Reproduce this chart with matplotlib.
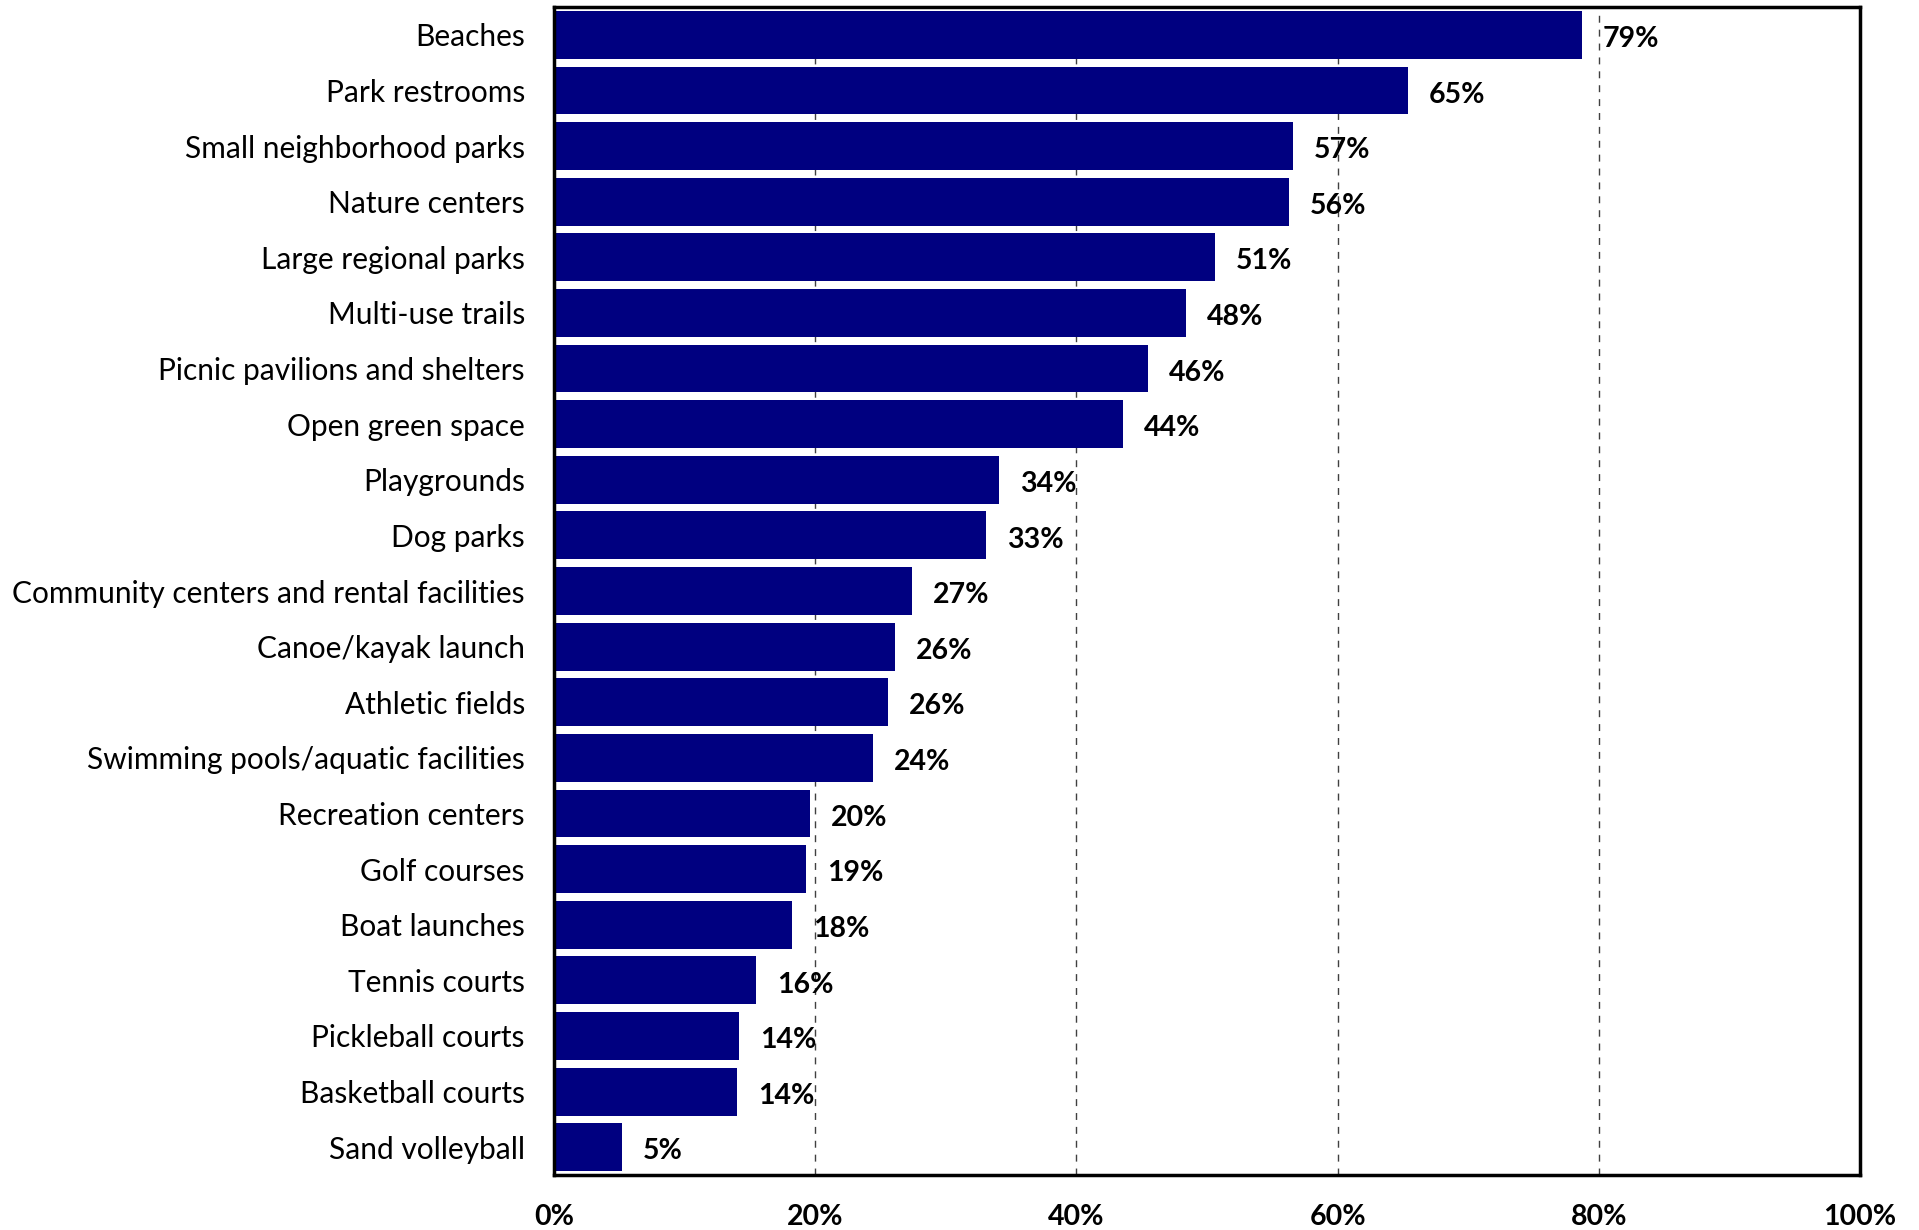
import matplotlib.pyplot as plt
import numpy as np

# Share of respondents by facility type
facilities = [
    "Beaches", "Park restrooms", "Small neighborhood parks", "Nature centers",
    "Large regional parks", "Multi-use trails", "Picnic pavilions and shelters",
    "Open green space", "Playgrounds", "Dog parks",
    "Community centers and rental facilities", "Canoe/kayak launch",
    "Athletic fields", "Swimming pools/aquatic facilities", "Recreation centers",
    "Golf courses", "Boat launches", "Tennis courts", "Pickleball courts",
    "Basketball courts", "Sand volleyball",
]
shares = [78.7, 65.4, 56.6, 56.3, 50.6, 48.4, 45.5, 43.6, 34.1, 33.1,
          27.4, 26.1, 25.6, 24.4, 19.6, 19.3, 18.2, 15.5, 14.2, 14.0, 5.2]
x_ticks = [0, 20, 40, 60, 80, 100]

plt.rcParams['font.family'] = ['Lato', 'DejaVu Sans']

fig = plt.figure(figsize=(19.19, 12.30), dpi=100)
ax = fig.add_axes([0.2887, 0.0447, 0.9693 - 0.2887, 0.9943 - 0.0447])

ypos = np.arange(len(facilities))
ax.barh(ypos, shares, height=0.86, color='#000080', zorder=2)

for y, v in zip(ypos, shares):
    ax.text(v + 1.6, y + 0.03, f"{round(v)}%", va='center_baseline', ha='left',
            fontsize=20.5, fontweight='bold', color='black', zorder=3)

ax.set_xlim(0, 100)
ax.set_ylim(len(facilities) - 0.5, -0.5)
ax.set_yticks(ypos)
ax.set_yticklabels(facilities, fontsize=21.5, va='center_baseline')
ax.set_xticks(x_ticks)
ax.set_xticklabels([f"{t}%" for t in x_ticks], fontsize=20.5, fontweight='bold')
ax.tick_params(axis='y', length=0, pad=21)
ax.tick_params(axis='x', length=0, pad=21)

for t in x_ticks[1:-1]:
    ax.axvline(t, color='#404040', linestyle=(0, (5, 5)), linewidth=1, zorder=1)

for s in ax.spines.values():
    s.set_linewidth(2.5)
    s.set_color('black')

fig.savefig('out.png', dpi=100)
